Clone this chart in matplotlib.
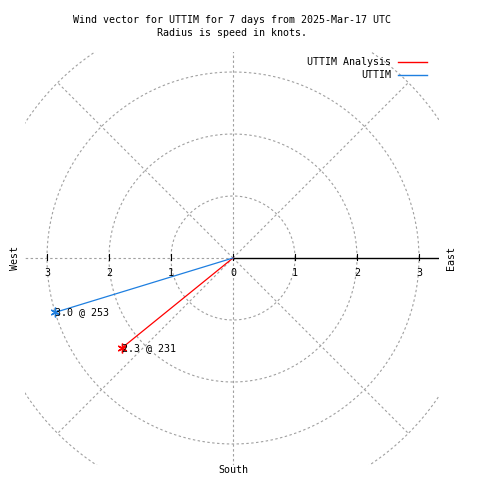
import numpy as np
import matplotlib
matplotlib.use("Agg")
import matplotlib.pyplot as plt

# Data
series_names = ["UTTIM Analysis", "UTTIM"]
directions = [231, 253]      # degrees, clockwise from north
speeds = [2.3, 3.0]          # knots
colors = ["#ff0000", "#1e7fe0"]
rings = [1, 2, 3, 4]
tick_values = [0, 1, 2, 3]
title_lines = ["Wind vector for UTTIM for 7 days from 2025-Mar-17 UTC",
               "Radius is speed in knots."]

FONT = "DejaVu Sans Mono"
FS = 7.2
GRID = "#a0a0a0"
DASH = (0, (2.2, 2.2))

fig = plt.figure(figsize=(4.8, 4.8), dpi=100)
px = 62.0
ax = fig.add_axes([25/480, 15/480, 414/480, 413/480])
ax.set_xlim(-208/px, 206/px)
ax.set_ylim(-207/px, 206/px)
ax.axis("off")

# grid circles
t = np.linspace(0, 2*np.pi, 721)
for r in rings:
    ax.plot(r*np.cos(t), r*np.sin(t), color=GRID, lw=0.8, ls=DASH)
# radial lines
rmax = rings[-1]
for a in range(0, 360, 45):
    if a == 0:
        continue
    rad = np.radians(a)
    ax.plot([0, rmax*np.cos(rad)], [0, rmax*np.sin(rad)], color=GRID, lw=0.8, ls=DASH)

# black axis on the east side
ax.plot([0, 206/px], [0, 0], color="black", lw=1.0)
for v in tick_values:
    ax.plot([v, v], [-2/px, 4/px], color="black", lw=0.8)
    ax.text(v, -15/px, str(v), ha="center", va="center", family=FONT, fontsize=FS)
for v in tick_values[1:]:
    ax.plot([-v, -v], [-2/px, 4/px], color="black", lw=0.8)
    ax.text(-v, -15/px, str(v), ha="center", va="center", family=FONT, fontsize=FS)

# vectors
for name, d, s, c in zip(series_names, directions, speeds, colors):
    x = s*np.sin(np.radians(d))
    y = s*np.cos(np.radians(d))
    ax.plot([0, x], [0, y], color=c, lw=0.9)
    ax.plot([x], [y], marker=(6, 2, 0), color=c, ms=7, mew=1.0)
    ax.text(x, y, f"{s:.1f} @ {d}", ha="left", va="center", family=FONT, fontsize=FS)

# compass labels
fig.text(15/480, 1-258/480, "West", rotation=90, ha="center", va="center", family=FONT, fontsize=FS)
fig.text(451/480, 1-258/480, "East", rotation=90, ha="center", va="center", family=FONT, fontsize=FS)
fig.text(233/480, 1-470/480, "South", ha="center", va="center", family=FONT, fontsize=FS)

# title
fig.text(232/480, 1-20/480, title_lines[0], ha="center", va="center", family=FONT, fontsize=FS)
fig.text(232/480, 1-33/480, title_lines[1], ha="center", va="center", family=FONT, fontsize=FS)

# legend
for i, (name, c) in enumerate(zip(series_names, colors)):
    yy = 1-(62+13*i)/480
    fig.text(391/480, yy, name, ha="right", va="center", family=FONT, fontsize=FS)
    fig.add_artist(plt.Line2D([398/480, 427/480], [yy, yy], color=c, lw=1.0))

fig.savefig("out.png", dpi=100)
